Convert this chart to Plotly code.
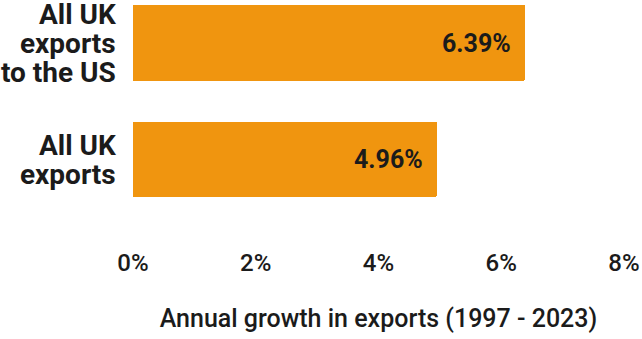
import plotly.graph_objects as go

# Annual growth in UK exports, 1997 - 2023 (percent per year)
categories = ["All UK exports", "All UK exports to the US"]
label_lines = [["All UK", "exports"], ["All UK", "exports", "to the US"]]
growth = [4.96, 6.39]
x_ticks = [0, 2, 4, 6, 8]
x_tick_labels = ["0%", "2%", "4%", "6%", "8%"]

BAR_COLOR = "#F0950F"
TEXT_COLOR = "#1b1b1b"
FONT = "Roboto"
LINE_STEP = 29  # px between stacked category-label lines

fig = go.Figure(
    go.Bar(
        x=growth,
        y=categories,
        orientation="h",
        width=0.65,
        marker=dict(color=BAR_COLOR, line=dict(width=0), cornerradius=2),
        hoverinfo="skip",
    )
)

for cat, val, lines in zip(categories, growth, label_lines):
    # value label inside the right end of the bar
    fig.add_annotation(
        x=val, y=cat, xref="x", yref="y",
        text=f"{val:.2f}%",
        showarrow=False,
        xanchor="right", yanchor="middle",
        xshift=-12,
        font=dict(family=FONT, size=25, color=TEXT_COLOR, weight=700),
    )
    # category label, tightly stacked lines to the left of the bar
    n = len(lines)
    for i, line in enumerate(lines):
        fig.add_annotation(
            x=0, y=cat, xref="paper", yref="y",
            text=line,
            showarrow=False,
            xanchor="right", yanchor="middle",
            xshift=-15,
            yshift=((n - 1) / 2 - i) * LINE_STEP,
            font=dict(family=FONT, size=28, color=TEXT_COLOR, weight=700),
        )

fig.update_layout(
    width=642, height=339,
    margin=dict(l=133, r=18, t=0, b=129),
    paper_bgcolor="white",
    plot_bgcolor="white",
    showlegend=False,
    bargap=0,
)

fig.update_xaxes(
    range=[0, 8],
    tickvals=x_ticks,
    ticktext=x_tick_labels,
    showgrid=False,
    zeroline=False,
    showline=False,
    ticks="outside",
    ticklen=31,
    tickcolor="rgba(0,0,0,0)",
    tickfont=dict(family=FONT, size=24, color=TEXT_COLOR, weight=500),
    title=dict(
        text="Annual growth in exports (1997 - 2023)",
        font=dict(family=FONT, size=25, color=TEXT_COLOR, weight=500),
        standoff=33,
    ),
    fixedrange=True,
)

fig.update_yaxes(
    range=[-0.433, 1.369],
    showgrid=False,
    zeroline=False,
    showline=False,
    showticklabels=False,
    fixedrange=True,
)

fig.write_html("out.html", config={"displayModeBar": False})
